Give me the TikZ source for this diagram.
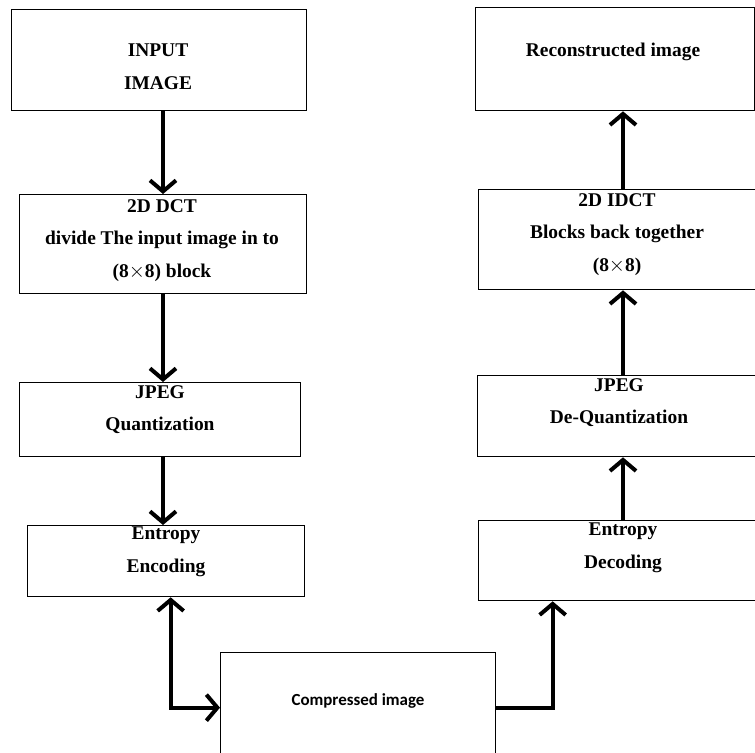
\documentclass[tikz,border=0pt]{standalone}
\usepackage{fontspec}
\setmainfont{Liberation Serif}
\newfontfamily\compfont{Carlito}
\usetikzlibrary{arrows.meta}

\begin{document}
\begin{tikzpicture}[x=1bp, y=-1bp,
		block/.style={rectangle, draw, line width=1.3bp, anchor=north west, inner sep=0pt},
		txt/.style={anchor=north, inner sep=0pt, align=center, text=black,
			font=\bfseries\fontsize{19.5}{33}\selectfont},
		barb/.tip={Straight Barb[length=11bp, width=26bp]},
		flow/.style={line width=4bp, -barb}
]

\useasboundingbox (0,0) rectangle (755,753);

% left column
\node [block, minimum width=295bp, minimum height=101bp] (Input) at (11,9) {};
\node [block, minimum width=287bp, minimum height=99bp] (DCT) at (19,194) {};
\node [block, minimum width=281bp, minimum height=74bp] (Quant) at (19,382) {};
\node [block, minimum width=277bp, minimum height=71bp] (EntEnc) at (27,525) {};

% bottom
\node [block, minimum width=275bp, minimum height=110bp] (Comp) at (220,652) {};

% right column
\node [block, minimum width=279bp, minimum height=103bp] (Recon) at (475,7) {};
\node [block, minimum width=278bp, minimum height=100bp] (IDCT) at (478,189) {};
\node [block, minimum width=279bp, minimum height=81bp] (DeQuant) at (477,375) {};
\node [block, minimum width=278bp, minimum height=80bp] (EntDec) at (478,520) {};

% texts
\node [txt] (InputTxt) at (158,44) {INPUT\\IMAGE};
\node [txt] (DCTTxt) at (162,199) {2D DCT\\divide The input image in to\\(8$\times$8) block};
\node [txt] (QuantTxt) at (160,385) {JPEG\\Quantization};
\node [txt] (EntEncTxt) at (166,527) {Entropy\\Encoding};
\node [txt] (CompTxt) at (358,693) {\compfont\fontsize{17}{20}\selectfont Compressed image};
\node [txt] (ReconTxt) at (613,43) {Reconstructed image};
\node [txt] (IDCTTxt) at (617,193) {2D IDCT\\Blocks back together\\(8$\times$8)};
\node [txt] (DeQuantTxt) at (619,378) {JPEG\\De-Quantization};
\node [txt] (EntDecTxt) at (623,523) {Entropy\\Decoding};

\coordinate (LCol) at (163,0);
\coordinate (RCol) at (623,0);

% connectors
\draw [flow] (Input.south -| LCol) -- (DCT.north -| LCol);
\draw [flow] (DCT.south -| LCol) -- (Quant.north -| LCol);
\draw [flow] (Quant.south -| LCol) -- (EntEnc.north -| LCol);
\draw [flow, barb-barb] ([xshift=4.5bp]EntEnc.south) |- (Comp.west);
\draw [flow] (Comp.east) -| ([xshift=-65bp]EntDec.south);
\draw [flow] (EntDec.north -| RCol) -- (DeQuant.south -| RCol);
\draw [flow] (DeQuant.north -| RCol) -- (IDCT.south -| RCol);
\draw [flow] (IDCT.north -| RCol) -- (Recon.south -| RCol);

\end{tikzpicture}
\end{document}
